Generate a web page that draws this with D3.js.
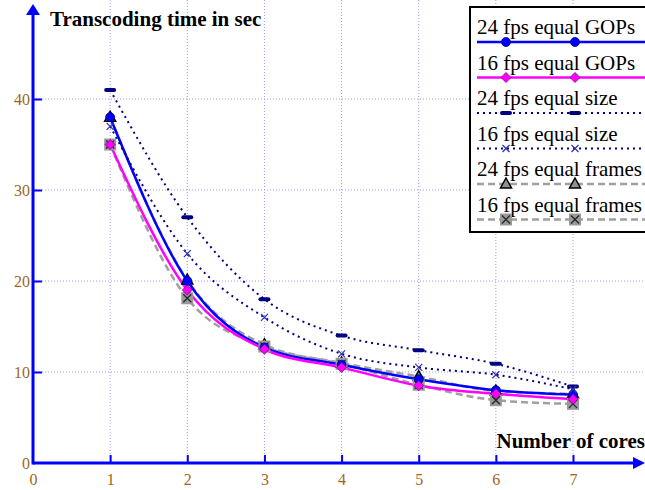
<!DOCTYPE html>
<html>
<head>
<meta charset="utf-8">
<script src="https://cdn.jsdelivr.net/npm/d3@7"></script>
<style>
  body { margin: 0; background: #fff; }
  .tick text { font-family: "Liberation Serif", serif; font-size: 16px; fill: #a0661e; }
</style>
</head>
<body>
<div id="chart"></div>
<script>
(function () {

  const cores = [1, 2, 3, 4, 5, 6, 7]
  const gops24 = [38, 20, 12.7, 10.8, 9.2, 8.0, 7.5]
  const gops16 = [35, 19, 12.5, 10.5, 8.5, 7.6, 7.0]
  const size24 = [41, 27, 18, 14, 12.4, 10.9, 8.4]
  const size16 = [37, 23, 16, 12, 10.5, 9.7, 8.1]
  const frames24 = [38, 20.1, 13, 11, 9.5, 7.9, 7.6]
  const frames16 = [35, 18.1, 12.8, 10.9, 8.6, 6.9, 6.5]
  const seriesNames = ['24 fps equal GOPs', '16 fps equal GOPs', '24 fps  equal size',
    '16 fps equal size', '24 fps equal frames', '16 fps equal frames']
  const xTicks = [0, 1, 2, 3, 4, 5, 6, 7]
  const yTicks = [0, 10, 20, 30, 40]

  const W = 645, H = 490
  const svg = d3.select('#chart').append('svg')
    .attr('width', W).attr('height', H)

  const x = d3.scaleLinear().domain([0, 7]).range([33, 573])
  const y = d3.scaleLinear().domain([0, 40]).range([463, 99])

  // series styles
  const styles = [
    { data: gops24, color: '#0000ff', width: 2.5, dash: null, marker: 'circle' },
    { data: gops16, color: '#ff00ff', width: 2.5, dash: null, marker: 'diamond' },
    { data: size24, color: '#000080', width: 2, dash: '2,4', marker: 'bar' },
    { data: size16, color: '#000080', width: 2, dash: '2,4', marker: 'x' },
    { data: frames24, color: '#a0a0a0', width: 2.5, dash: '7,4', marker: 'triangle' },
    { data: frames16, color: '#a0a0a0', width: 2.5, dash: '7,4', marker: 'boxx' }
  ]

  // grid
  svg.append('g').selectAll('line')
    .data(cores)
    .join('line')
    .attr('x1', d => x(d)).attr('x2', d => x(d))
    .attr('y1', 0).attr('y2', y(0))
    .attr('stroke', '#9a9aff').attr('stroke-dasharray', '1,2')
  svg.append('g').selectAll('line')
    .data(yTicks.slice(1))
    .join('line')
    .attr('x1', x(0)).attr('x2', W)
    .attr('y1', d => y(d)).attr('y2', d => y(d))
    .attr('stroke', '#9a9aff').attr('stroke-dasharray', '1,2')

  // axes
  const xAxis = d3.axisBottom(x).tickValues(xTicks).tickFormat(d3.format('d'))
    .tickSizeInner(-8).tickSizeOuter(0).tickPadding(11)
  const gx = svg.append('g').attr('transform', 'translate(0,' + y(0) + ')').call(xAxis)
  const yAxis = d3.axisLeft(y).tickValues(yTicks).tickFormat(d3.format('d'))
    .tickSizeInner(-9).tickSizeOuter(0).tickPadding(3)
  const gy = svg.append('g').attr('transform', 'translate(' + x(0) + ',0)').call(yAxis)
  gx.select('.domain').remove()
  gy.select('.domain').remove()
  gx.selectAll('.tick line').attr('stroke', '#0000ff').attr('stroke-width', 2)
  gy.selectAll('.tick line').attr('stroke', '#0000ff').attr('stroke-width', 2)
  gy.selectAll('.tick').filter(d => d === 0).select('line').remove()
  gx.selectAll('.tick').filter(d => d === 0).select('line').remove()

  svg.append('line').attr('x1', x(0)).attr('x2', W - 8).attr('y1', y(0)).attr('y2', y(0))
    .attr('stroke', '#0000ff').attr('stroke-width', 3)
  svg.append('path').attr('d', `M${W},${y(0)} L${W - 12},${y(0) - 6} L${W - 12},${y(0) + 6} Z`).attr('fill', '#0000ff')
  svg.append('line').attr('x1', x(0)).attr('x2', x(0)).attr('y1', y(0) + 1.5).attr('y2', 12)
    .attr('stroke', '#0000ff').attr('stroke-width', 3)
  svg.append('path').attr('d', `M${x(0)},4 L${x(0) - 7},15 L${x(0) + 7},15 Z`).attr('fill', '#0000ff')

  // axis titles
  svg.append('text').attr('x', 50).attr('y', 26)
    .attr('font-family', 'Liberation Serif, serif').attr('font-weight', 'bold').attr('font-size', 21)
    .text('Transcoding time in sec')
  svg.append('text').attr('x', 645).attr('y', 448).attr('text-anchor', 'end')
    .attr('font-family', 'Liberation Serif, serif').attr('font-weight', 'bold').attr('font-size', 21)
    .text('Number of cores')

  function drawMarker (g, type, cx, cy, color) {
    if (type === 'circle') {
      g.append('circle').attr('cx', cx).attr('cy', cy).attr('r', 4.5).attr('fill', color).attr('stroke', '#000080').attr('stroke-width', 0.8)
    } else if (type === 'diamond') {
      g.append('path').attr('d', `M${cx},${cy - 5} L${cx + 5},${cy} L${cx},${cy + 5} L${cx - 5},${cy} Z`)
        .attr('fill', color).attr('stroke', '#800080').attr('stroke-width', 0.8)
    } else if (type === 'bar') {
      g.append('rect').attr('x', cx - 6).attr('y', cy - 2).attr('width', 12).attr('height', 4).attr('rx', 2)
        .attr('fill', color)
    } else if (type === 'x') {
      g.append('path').attr('d', `M${cx - 3.5},${cy - 3.5} L${cx + 3.5},${cy + 3.5} M${cx - 3.5},${cy + 3.5} L${cx + 3.5},${cy - 3.5}`)
        .attr('stroke', '#3030b0').attr('stroke-width', 1.2)
    } else if (type === 'triangle') {
      g.append('path').attr('d', `M${cx},${cy - 6} L${cx + 5.5},${cy + 4} L${cx - 5.5},${cy + 4} Z`)
        .attr('fill', '#909090').attr('stroke', '#000').attr('stroke-width', 1.5)
    } else if (type === 'boxx') {
      g.append('rect').attr('x', cx - 6).attr('y', cy - 6).attr('width', 12).attr('height', 12).attr('fill', '#999')
      g.append('path').attr('d', `M${cx - 4},${cy - 4} L${cx + 4},${cy + 4} M${cx - 4},${cy + 4} L${cx + 4},${cy - 4}`)
        .attr('stroke', '#222').attr('stroke-width', 1.2)
    }
  }

  const line = d3.line()
    .x((d, i) => x(cores[i]))
    .y(d => y(d))
    .curve(d3.curveMonotoneX)

  // draw gray ones first so the coloured ones sit on top
  const order = [4, 5, 0, 1, 2, 3]
  order.forEach(i => {
    const s = styles[i]
    svg.append('path').datum(s.data)
      .attr('d', line)
      .attr('fill', 'none')
      .attr('stroke', s.color)
      .attr('stroke-width', s.width)
      .attr('stroke-dasharray', s.dash)
  })
  order.forEach(i => {
    const s = styles[i]
    const g = svg.append('g')
    s.data.forEach((d, j) => drawMarker(g, s.marker, x(cores[j]), y(d), s.color))
  })

  // legend
  const legend = svg.append('g')
  legend.append('rect').attr('x', 470).attr('y', 7).attr('width', 180).attr('height', 225)
    .attr('fill', '#fff').attr('stroke', '#000').attr('stroke-width', 2)
  seriesNames.forEach((name, i) => {
    const s = styles[i]
    const ty = 34 + i * 35.5
    legend.append('text').attr('x', 477).attr('y', ty)
      .attr('font-family', 'Liberation Serif, serif').attr('font-size', 21)
      .text(name)
    const ly = ty + 8
    legend.append('line').attr('x1', 477).attr('x2', 645).attr('y1', ly).attr('y2', ly)
      .attr('stroke', s.color).attr('stroke-width', s.width).attr('stroke-dasharray', s.dash)
    drawMarker(legend, s.marker, 506, ly, s.color)
    drawMarker(legend, s.marker, 575, ly, s.color)
  })

})();
</script>
</body>
</html>
